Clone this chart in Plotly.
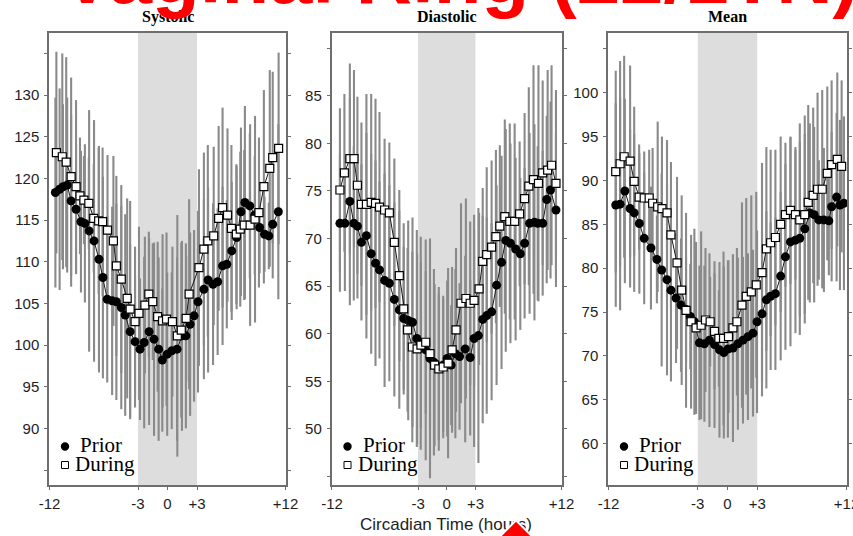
import plotly.graph_objects as go

# ---------------- data ----------------
TIME_TICKS = [-12, -3, 0, 3, 12]
TIME_LABELS = ["-12", "-3", "0", "+3", "+12"]
PANEL_TITLES = ["Systolic", "Diastolic", "Mean"]
LEGEND_LABELS = ["Prior", "During"]
MAIN_TITLE = "Vaginal Ring (22/1TN)"
X_TITLE = "Circadian Time (hours)"

# Systolic
sys_prior_t = [-11.4, -10.97, -10.63, -10.2, -9.8, -9.3, -8.8, -8.4, -7.97, -7.47,
               -6.97, -6.57, -6.13, -5.63, -5.2, -4.7, -4.3, -3.8, -3.3, -2.8,
               -2.37, -1.87, -1.37, -0.9, -0.53, -0.03, 0.43, 0.97, 1.47, 1.87,
               2.3, 2.7, 3.1, 3.7, 4.13, 4.63, 5.1, 5.6, 6.03, 6.53,
               7.03, 7.47, 7.87, 8.37, 8.87, 9.37, 9.87, 10.3, 10.7, 11.27]
sys_prior = [118.3, 118.7, 119.0, 119.2, 117.3, 116.3, 114.8, 114.6, 113.7, 112.5,
             110.3, 108.1, 105.5, 105.3, 105.2, 104.5, 103.6, 101.6, 100.4, 99.5,
             100.3, 101.6, 100.7, 99.5, 98.2, 98.9, 99.3, 99.5, 101.1, 101.1,
             102.5, 103.5, 105.2, 106.7, 107.8, 107.3, 107.6, 109.5, 109.7, 111.3,
             112.9, 116.0, 117.1, 116.7, 115.6, 114.1, 113.3, 113.1, 114.5, 116.0]
sys_prior_sd = [11.4, 12.1, 9.9, 10.5, 10.3, 7.8, 8.5, 9.5, 14.5, 14.5,
                13.6, 12.1, 10.0, 11.3, 11.8, 12.2, 12.1, 10.5, 7.9, 8.5,
                10.3, 11.2, 11.6, 11.0, 8.6, 9.8, 9.4, 11.0, 11.4, 11.1,
                11.0, 10.3, 10.9, 10.8, 11.1, 9.7, 8.8, 9.5, 7.7, 8.3,
                8.6, 10.1, 11.6, 8.7, 7.1, 5.5, 4.5, 4.0, 6.5, 10.5]
sys_during_t = [-11.3, -10.7, -10.3, -9.8, -9.3, -8.9, -8.5, -8.0, -7.5, -7.0,
                -6.6, -6.1, -5.5, -5.2, -4.7, -4.1, -3.8, -3.3, -2.9, -2.3,
                -1.9, -1.5, -1.0, -0.5, -0.1, 0.5, 1.0, 1.4, 1.9, 2.2,
                3.2, 3.7, 4.1, 4.7, 5.2, 5.6, 6.1, 6.5, 7.0, 7.4,
                7.8, 8.4, 8.9, 9.3, 9.8, 10.4, 10.7, 11.3]
sys_during = [123.1, 122.6, 121.95, 120.2, 119.0, 117.9, 117.4, 117.0, 115.2, 114.9,
              114.8, 113.8, 112.5, 109.5, 107.9, 105.6, 104.3, 102.8, 103.8, 104.8,
              106.1, 105.2, 103.4, 102.9, 103.1, 102.8, 101.1, 101.8, 103.2, 106.1,
              109.3, 111.5, 112.5, 113.1, 115.2, 116.5, 115.6, 114.0, 113.3, 113.9,
              114.4, 114.4, 115.1, 115.9, 119.0, 121.2, 122.5, 123.6]
sys_during_sd = [12.1, 12.4, 12.6, 11.9, 10.4, 7.0, 5.3, 5.5, 6.5, 8.8,
                 8.9, 9.0, 10.2, 10.8, 11.3, 12.0, 13.0, 9.0, 10.4, 8.2,
                 7.5, 7.0, 9.0, 10.4, 10.4, 9.0, 14.5, 10.5, 7.5, 11.4,
                 11.8, 11.6, 11.5, 10.7, 11.1, 12.0, 10.4, 10.0, 8.4, 9.3,
                 9.0, 12.1, 12.4, 9.0, 11.6, 11.8, 10.3, 11.5]

# Diastolic
dia_prior_t = [-11.17, -10.65, -10.13, -9.72, -9.34, -8.92, -8.4, -7.9, -7.45, -7.03,
               -6.5, -6.0, -5.48, -4.96, -4.5, -4.03, -3.58, -3.13, -2.72, -2.2,
               -1.75, -1.34, -0.83, -0.37, 0.04, 0.46, 0.9, 1.34, 1.93, 2.45,
               2.86, 3.31, 3.76, 4.18, 4.69, 5.21, 5.73, 6.17, 6.66, 7.2,
               7.69, 8.14, 8.66, 9.17, 9.51, 10.03, 10.45, 10.85, 11.42]
dia_prior = [71.6, 71.6, 73.9, 71.6, 71.3, 69.6, 70.3, 68.4, 67.4, 66.7,
             65.6, 65.3, 63.6, 62.5, 61.6, 61.4, 61.2, 59.5, 59.0, 58.3,
             57.4, 57.0, 56.5, 56.7, 57.4, 56.7, 57.9, 57.6, 58.4, 57.5,
             59.5, 59.8, 61.5, 61.9, 62.3, 65.1, 67.5, 69.8, 69.5, 68.9,
             68.4, 69.5, 71.6, 71.7, 71.6, 71.6, 74.1, 75.1, 73.0]
dia_prior_sd = [7.2, 7.1, 10.9, 8.1, 7.6, 8.2, 10.8, 10.5, 10.8, 9.3,
                11.2, 10.3, 10.2, 10.4, 7.5, 10.5, 11.0, 11.4, 11.2, 11.6,
                12.6, 9.8, 7.7, 7.0, 8.2, 6.3, 8.9, 7.7, 9.8, 8.2,
                11.4, 13.4, 10.9, 10.3, 9.3, 10.5, 11.2, 11.7, 10.5, 9.6,
                8.0, 7.9, 9.5, 10.3, 8.1, 7.6, 8.8, 9.3, 8.1]
dia_during_t = [-11.17, -10.7, -10.13, -9.7, -9.34, -8.92, -8.4, -7.9, -7.45, -7.03,
                -6.5, -6.0, -5.48, -4.96, -4.5, -4.1, -3.6, -3.1, -2.7, -2.2,
                -1.75, -1.27, -0.83, -0.37, 0.14, 0.56, 0.97, 1.49, 2.0, 2.45,
                2.86, 3.38, 3.76, 4.18, 4.69, 5.14, 5.55, 6.07, 6.59, 7.1,
                7.62, 8.14, 8.58, 9.07, 9.59, 10.03, 10.55, 10.96, 11.42]
dia_during = [75.1, 76.9, 78.4, 78.4, 75.6, 73.6, 73.6, 73.8, 73.7, 73.3,
              73.0, 72.7, 69.6, 66.1, 62.6, 60.4, 58.6, 58.4, 58.8, 59.1,
              57.9, 56.7, 56.3, 56.5, 56.9, 58.3, 60.4, 63.2, 63.7, 63.2,
              63.5, 64.7, 67.6, 68.3, 69.1, 70.2, 71.3, 72.3, 71.8, 71.8,
              72.6, 74.2, 75.5, 76.2, 75.8, 76.9, 77.2, 77.7, 75.8]
dia_during_sd = [8.6, 8.3, 10.0, 9.3, 9.3, 8.6, 11.6, 11.4, 11.0, 10.0,
                 7.5, 7.4, 8.8, 9.0, 9.0, 8.6, 10.0, 10.0, 8.7, 7.5,
                 7.7, 8.5, 8.6, 7.5, 10.0, 8.7, 8.6, 10.5, 10.5, 8.6,
                 9.0, 8.0, 7.7, 9.2, 9.1, 9.1, 8.5, 10.2, 10.3, 10.3,
                 7.6, 9.0, 10.4, 12.0, 12.4, 9.7, 10.5, 10.5, 9.8]

# Mean
mean_prior_t = [-11.27, -10.83, -10.35, -9.82, -9.41, -8.89, -8.4, -7.72, -7.12, -6.64,
                -6.1, -5.7, -5.19, -4.69, -4.18, -3.75, -3.34, -2.83, -2.33, -1.82,
                -1.31, -0.81, -0.37, 0.04, 0.55, 1.05, 1.56, 2.06, 2.57, 2.98,
                3.48, 3.92, 4.35, 4.83, 5.36, 5.84, 6.35, 6.85, 7.29, 7.79,
                8.3, 8.74, 9.21, 9.72, 10.22, 10.5, 11.0, 11.34, 11.74]
mean_prior = [87.2, 87.3, 88.8, 86.8, 86.3, 85.1, 83.4, 82.3, 81.0, 79.8,
              78.7, 77.5, 76.6, 75.8, 75.3, 74.5, 73.9, 71.5, 71.4, 71.8,
              71.3, 70.7, 70.4, 70.8, 70.9, 71.4, 71.8, 72.2, 72.6, 73.9,
              74.8, 76.4, 76.8, 77.1, 79.1, 81.3, 83.0, 83.2, 83.4, 84.5,
              86.3, 86.1, 85.5, 85.5, 85.4, 87.0, 88.1, 87.2, 87.4]
mean_prior_sd = [11.6, 12.1, 10.5, 9.0, 9.0, 8.0, 7.5, 7.0, 5.0, 11.0,
                 10.9, 10.4, 7.4, 7.6, 6.0, 6.0, 10.6, 8.8, 8.9, 9.9,
                 9.5, 10.0, 9.8, 10.1, 10.7, 9.8, 9.5, 9.5, 9.5, 10.4,
                 9.4, 10.1, 8.4, 8.7, 9.6, 10.6, 11.9, 10.6, 11.0, 10.8,
                 10.2, 10.0, 6.8, 8.2, 6.2, 8.5, 9.6, 9.7, 9.9]
mean_during_t = [-11.27, -10.83, -10.42, -9.82, -9.41, -8.91, -8.4, -7.9, -7.55, -7.04,
                 -6.61, -6.1, -5.7, -5.09, -4.62, -4.18, -3.67, -3.17, -2.66, -2.22,
                 -1.75, -1.31, -0.87, -0.4, 0.1, 0.55, 0.95, 1.46, 1.89, 2.4,
                 2.9, 3.48, 3.92, 4.35, 4.83, 5.36, 5.84, 6.35, 6.85, 7.29,
                 7.79, 8.14, 8.64, 9.08, 9.55, 10.06, 10.5, 11.07, 11.51]
mean_during = [91.0, 91.9, 92.7, 92.2, 89.9, 88.1, 88.0, 88.0, 87.4, 87.0,
               86.8, 86.3, 83.8, 80.6, 77.5, 75.2, 73.9, 73.2, 73.5, 74.1,
               73.9, 72.8, 72.0, 72.0, 72.2, 73.2, 73.9, 75.8, 76.8, 77.3,
               78.1, 79.5, 82.2, 82.9, 83.5, 85.0, 86.1, 86.6, 86.1, 85.5,
               86.1, 87.5, 88.3, 89.0, 89.0, 90.8, 91.8, 92.4, 91.6]
mean_during_sd = [11.5, 11.7, 11.5, 10.9, 8.5, 6.0, 5.3, 5.5, 6.3, 9.7,
                  8.2, 8.3, 8.3, 9.8, 10.8, 11.1, 9.9, 9.8, 10.7, 8.2,
                  5.1, 6.6, 5.5, 9.9, 8.7, 8.3, 8.4, 11.7, 11.2, 11.0,
                  10.6, 12.5, 11.6, 10.6, 10.0, 10.0, 8.2, 8.4, 7.4, 11.0,
                  11.3, 11.1, 10.0, 11.0, 11.3, 9.9, 9.6, 9.9, 9.8]

# y axis ticks (outer ticks unlabeled)
sys_ticks = [85, 90, 95, 100, 105, 110, 115, 120, 125, 130, 135]
sys_ticktext = ["", "90", "95", "100", "105", "110", "115", "120", "125", "130", ""]
dia_ticks = [45, 50, 55, 60, 65, 70, 75, 80, 85, 90]
dia_ticktext = ["", "50", "55", "60", "65", "70", "75", "80", "85", ""]
mean_ticks = [60, 65, 70, 75, 80, 85, 90, 95, 100, 105]
mean_ticktext = ["60", "65", "70", "75", "80", "85", "90", "95", "100", ""]

# ---------------- layout geometry ----------------
W, H = 853, 536
ML, MR, MT, MB = 49, 6, 33, 51
PW, PH = W - ML - MR, H - MT - MB


def fx(px):
    return (px - ML) / PW


def fy(py):
    return (H - MB - py) / PH


PANEL_PX = [(49, 286), (331.5, 562), (608, 847)]
Y_RANGES = [[83.2, 137.45], [44.1, 91.6], [55.3, 106.8]]
X_RANGE = [-12.05, 12.05]

BAR = "#8a8a8a"
SANS = "Liberation Sans, Arial, sans-serif"
SERIF = "Liberation Serif, Times New Roman, serif"

panels = [
    (sys_prior_t, sys_prior, sys_prior_sd, sys_during_t, sys_during, sys_during_sd,
     sys_ticks, sys_ticktext),
    (dia_prior_t, dia_prior, dia_prior_sd, dia_during_t, dia_during, dia_during_sd,
     dia_ticks, dia_ticktext),
    (mean_prior_t, mean_prior, mean_prior_sd, mean_during_t, mean_during, mean_during_sd,
     mean_ticks, mean_ticktext),
]

fig = go.Figure()


def axnames(i):
    return ("x" if i == 0 else f"x{i+1}"), ("y" if i == 0 else f"y{i+1}")


# error bars first (behind all markers)
for i, p in enumerate(panels):
    xa, ya = axnames(i)
    for t, v, sd in ((p[0], p[1], p[2]), (p[3], p[4], p[5])):
        fig.add_trace(go.Scatter(
            x=t, y=v, mode="markers", xaxis=xa, yaxis=ya,
            marker=dict(size=1, color="rgba(0,0,0,0)"),
            error_y=dict(type="data", array=sd, visible=True, color=BAR,
                         thickness=2.1, width=0),
            showlegend=False, hoverinfo="skip"))

# Prior series
for i, p in enumerate(panels):
    xa, ya = axnames(i)
    fig.add_trace(go.Scatter(
        x=p[0], y=p[1], mode="lines+markers", xaxis=xa, yaxis=ya,
        line=dict(color="#1a1a1a", width=1),
        marker=dict(symbol="circle", size=9, color="#000000",
                    line=dict(width=0)),
        name=LEGEND_LABELS[0], showlegend=False))
# During series
for i, p in enumerate(panels):
    xa, ya = axnames(i)
    fig.add_trace(go.Scatter(
        x=p[3], y=p[4], mode="lines+markers", xaxis=xa, yaxis=ya,
        line=dict(color="#1a1a1a", width=1),
        marker=dict(symbol="square", size=8, color="#ffffff",
                    line=dict(width=1.2, color="#000000")),
        name=LEGEND_LABELS[1], showlegend=False))

layout = dict(
    width=W, height=H,
    margin=dict(l=ML, r=MR, t=MT, b=MB, pad=0, autoexpand=False),
    paper_bgcolor="white", plot_bgcolor="white",
    showlegend=False, hovermode=False,
)

axis_common = dict(showline=True, linecolor="#6e6e6e", linewidth=1.5,
                   showgrid=False, zeroline=False, ticks="outside", ticklen=3,
                   tickwidth=1, tickcolor="#6e6e6e", automargin=False,
                   tickfont=dict(family=SANS, size=15, color="#1e1e1e"))

for i, p in enumerate(panels):
    l, r = PANEL_PX[i]
    xk = "xaxis" if i == 0 else f"xaxis{i+1}"
    yk = "yaxis" if i == 0 else f"yaxis{i+1}"
    xa, ya = axnames(i)
    layout[xk] = dict(axis_common, domain=[fx(l), fx(r)], range=X_RANGE,
                      tickmode="array", tickvals=TIME_TICKS, ticktext=TIME_LABELS,
                      mirror=True, anchor=ya, ticklabelstandoff=1,
                      ticklabeloverflow="allow")
    layout[yk] = dict(axis_common, domain=[0, 1], range=Y_RANGES[i],
                      tickmode="array", tickvals=p[6], ticktext=p[7],
                      mirror="ticks", anchor=xa, ticklabelstandoff=2)

fig.update_layout(**layout)

shapes = []
annotations = []
for i in range(3):
    l, r = PANEL_PX[i]
    xa, ya = axnames(i)
    # shaded night span
    shapes.append(dict(type="rect", xref=xa, yref=f"{ya} domain",
                       x0=-3, x1=3, y0=0, y1=1, fillcolor="#dddddd",
                       line=dict(width=0), layer="below"))
    # legend swatches
    cx = l + 16
    shapes.append(dict(type="circle", xref="paper", yref="paper",
                       x0=fx(cx - 4.2), x1=fx(cx + 4.2),
                       y0=fy(446.5 + 4.2), y1=fy(446.5 - 4.2),
                       fillcolor="black", line=dict(width=0), layer="above"))
    shapes.append(dict(type="rect", xref="paper", yref="paper",
                       x0=fx(cx - 3.5), x1=fx(cx + 3.5),
                       y0=fy(465 + 3.5), y1=fy(465 - 3.5),
                       fillcolor="white", line=dict(width=1, color="black"),
                       layer="above"))
    annotations.append(dict(text=LEGEND_LABELS[0], xref="paper", yref="paper",
                            x=fx(l + 29), y=fy(444.6), xanchor="left", yanchor="middle",
                            showarrow=False,
                            font=dict(family=SERIF, size=21, color="black")))
    annotations.append(dict(text=LEGEND_LABELS[1], xref="paper", yref="paper",
                            x=fx(l + 24), y=fy(463.6), xanchor="left", yanchor="middle",
                            showarrow=False,
                            font=dict(family=SERIF, size=21, color="black")))
    # panel title
    annotations.append(dict(text=PANEL_TITLES[i], xref="paper", yref="paper",
                            x=fx((l + r) / 2), y=fy(16.6), xanchor="center",
                            yanchor="middle", showarrow=False,
                            font=dict(family=SERIF, size=16, color="black",
                                      weight="bold")))

# x axis title
annotations.append(dict(text=X_TITLE, xref="paper", yref="paper",
                        x=fx(446), y=fy(524), xanchor="center", yanchor="middle",
                        showarrow=False,
                        font=dict(family=SANS, size=17, color="#1e1e1e")))
# big red slide title (cut off at the top)
annotations.append(dict(text=MAIN_TITLE, xref="paper", yref="paper",
                        x=fx(59), y=fy(22), xanchor="left", yanchor="bottom",
                        showarrow=False,
                        font=dict(family=SANS, size=78, color="#ff0000",
                                  weight="bold")))
# red pointer (rotated square, mostly below the page edge)
annotations.append(dict(text=" ", xref="paper", yref="paper",
                        x=fx(516), y=fy(543), xanchor="center", yanchor="middle",
                        showarrow=False, width=30, height=30, textangle=45,
                        bgcolor="#ff0000", bordercolor="white", borderwidth=2,
                        borderpad=0, font=dict(size=4)))

fig.update_layout(shapes=shapes, annotations=annotations)

fig.write_html("out.html")
